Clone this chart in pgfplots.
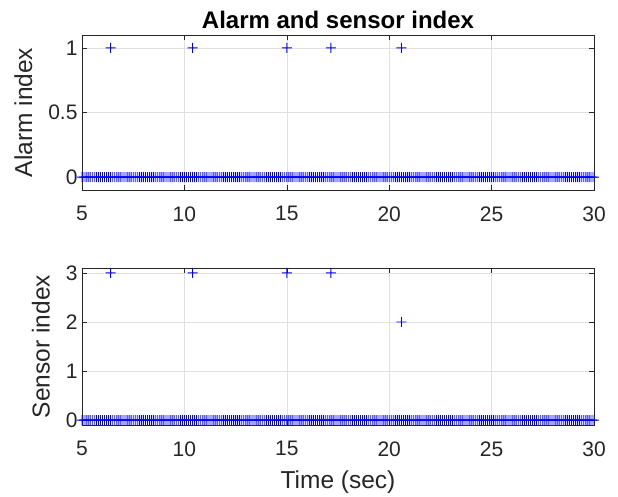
\documentclass[border=0pt]{standalone}
\usepackage{pgfplots}
\pgfplotsset{compat=1.18}
\usepackage{pgfplotstable}
\usepackage{fontspec}
\setmainfont{Liberation Sans}

\definecolor{axgray}{rgb}{0.15,0.15,0.15}
\definecolor{gridgray}{rgb}{0.88,0.88,0.88}
\definecolor{mblue}{rgb}{0,0,1}

% plus mark built from two filled bars
\pgfdeclareplotmark{fplus}{%
  \pgfsetfillcolor{mblue}%
  \pgfpathrectangle{\pgfqpoint{-\pgfplotmarksize}{-0.45pt}}{\pgfqpoint{2\pgfplotmarksize}{0.9pt}}%
  \pgfpathrectangle{\pgfqpoint{-0.45pt}{-\pgfplotmarksize}}{\pgfqpoint{0.9pt}{2\pgfplotmarksize}}%
  \pgfusepathqfill}

% samples where nothing happened (index 0)
\pgfplotstableread[row sep=\\]{
x y\\
5.0 0\\ 5.1 0\\ 5.2 0\\ 5.3 0\\ 5.4 0\\ 5.5 0\\ 5.6 0\\ 5.7 0\\ 5.8 0\\ 5.9 0\\
6.0 0\\ 6.1 0\\ 6.2 0\\ 6.3 0\\ 6.4 0\\ 6.5 0\\ 6.6 0\\ 6.7 0\\ 6.8 0\\ 6.9 0\\
7.0 0\\ 7.1 0\\ 7.2 0\\ 7.3 0\\ 7.4 0\\ 7.5 0\\ 7.6 0\\ 7.7 0\\ 7.8 0\\ 7.9 0\\
8.0 0\\ 8.1 0\\ 8.2 0\\ 8.3 0\\ 8.4 0\\ 8.5 0\\ 8.6 0\\ 8.7 0\\ 8.8 0\\ 8.9 0\\
9.0 0\\ 9.1 0\\ 9.2 0\\ 9.3 0\\ 9.4 0\\ 9.5 0\\ 9.6 0\\ 9.7 0\\ 9.8 0\\ 9.9 0\\
10.0 0\\ 10.1 0\\ 10.2 0\\ 10.3 0\\ 10.4 0\\ 10.5 0\\ 10.6 0\\ 10.7 0\\ 10.8 0\\ 10.9 0\\
11.0 0\\ 11.1 0\\ 11.2 0\\ 11.3 0\\ 11.4 0\\ 11.5 0\\ 11.6 0\\ 11.7 0\\ 11.8 0\\ 11.9 0\\
12.0 0\\ 12.1 0\\ 12.2 0\\ 12.3 0\\ 12.4 0\\ 12.5 0\\ 12.6 0\\ 12.7 0\\ 12.8 0\\ 12.9 0\\
13.0 0\\ 13.1 0\\ 13.2 0\\ 13.3 0\\ 13.4 0\\ 13.5 0\\ 13.6 0\\ 13.7 0\\ 13.8 0\\ 13.9 0\\
14.0 0\\ 14.1 0\\ 14.2 0\\ 14.3 0\\ 14.4 0\\ 14.5 0\\ 14.6 0\\ 14.7 0\\ 14.8 0\\ 14.9 0\\
15.0 0\\ 15.1 0\\ 15.2 0\\ 15.3 0\\ 15.4 0\\ 15.5 0\\ 15.6 0\\ 15.7 0\\ 15.8 0\\ 15.9 0\\
16.0 0\\ 16.1 0\\ 16.2 0\\ 16.3 0\\ 16.4 0\\ 16.5 0\\ 16.6 0\\ 16.7 0\\ 16.8 0\\ 16.9 0\\
17.0 0\\ 17.1 0\\ 17.2 0\\ 17.3 0\\ 17.4 0\\ 17.5 0\\ 17.6 0\\ 17.7 0\\ 17.8 0\\ 17.9 0\\
18.0 0\\ 18.1 0\\ 18.2 0\\ 18.3 0\\ 18.4 0\\ 18.5 0\\ 18.6 0\\ 18.7 0\\ 18.8 0\\ 18.9 0\\
19.0 0\\ 19.1 0\\ 19.2 0\\ 19.3 0\\ 19.4 0\\ 19.5 0\\ 19.6 0\\ 19.7 0\\ 19.8 0\\ 19.9 0\\
20.0 0\\ 20.1 0\\ 20.2 0\\ 20.3 0\\ 20.4 0\\ 20.5 0\\ 20.6 0\\ 20.7 0\\ 20.8 0\\ 20.9 0\\
21.0 0\\ 21.1 0\\ 21.2 0\\ 21.3 0\\ 21.4 0\\ 21.5 0\\ 21.6 0\\ 21.7 0\\ 21.8 0\\ 21.9 0\\
22.0 0\\ 22.1 0\\ 22.2 0\\ 22.3 0\\ 22.4 0\\ 22.5 0\\ 22.6 0\\ 22.7 0\\ 22.8 0\\ 22.9 0\\
23.0 0\\ 23.1 0\\ 23.2 0\\ 23.3 0\\ 23.4 0\\ 23.5 0\\ 23.6 0\\ 23.7 0\\ 23.8 0\\ 23.9 0\\
24.0 0\\ 24.1 0\\ 24.2 0\\ 24.3 0\\ 24.4 0\\ 24.5 0\\ 24.6 0\\ 24.7 0\\ 24.8 0\\ 24.9 0\\
25.0 0\\ 25.1 0\\ 25.2 0\\ 25.3 0\\ 25.4 0\\ 25.5 0\\ 25.6 0\\ 25.7 0\\ 25.8 0\\ 25.9 0\\
26.0 0\\ 26.1 0\\ 26.2 0\\ 26.3 0\\ 26.4 0\\ 26.5 0\\ 26.6 0\\ 26.7 0\\ 26.8 0\\ 26.9 0\\
27.0 0\\ 27.1 0\\ 27.2 0\\ 27.3 0\\ 27.4 0\\ 27.5 0\\ 27.6 0\\ 27.7 0\\ 27.8 0\\ 27.9 0\\
28.0 0\\ 28.1 0\\ 28.2 0\\ 28.3 0\\ 28.4 0\\ 28.5 0\\ 28.6 0\\ 28.7 0\\ 28.8 0\\ 28.9 0\\
29.0 0\\ 29.1 0\\ 29.2 0\\ 29.3 0\\ 29.4 0\\ 29.5 0\\ 29.6 0\\ 29.7 0\\ 29.8 0\\ 29.9 0\\
30.0 0\\
}\zeros

\pgfplotstableread[row sep=\\]{
t alarm sensor\\
6.4 1 3\\
10.4 1 3\\
15.0 1 3\\
17.15 1 3\\
20.6 1 2\\
}\events

\pgfplotsset{
  mlab/.style={
    scale only axis, width=512pt, anchor=south west,
    xmin=5, xmax=30, xtick={5,10,15,20,25,30},
    grid=major, major grid style={gridgray, line width=0.6pt},
    axis line style={axgray, line width=0.6pt},
    tick style={axgray, line width=0.6pt},
    tick align=inside, major tick length=5pt,
    xtick pos=both, ytick pos=both,
    ticklabel style={font=\fontsize{21}{25}\selectfont, text=axgray},
    xticklabel style={yshift=-13pt},
    yticklabel style={xshift=-1pt},
    label style={font=\fontsize{24.5}{29}\selectfont, text=axgray},
    ylabel style={yshift=9pt},
    xlabel style={yshift=-7pt},
    /pgf/number format/assume math mode=true,
    clip=false,
  },
  pts/.style={only marks, mark=fplus, mark size=5pt, color=mblue, fill=mblue},
}

\begin{document}
\begin{tikzpicture}
\useasboundingbox (0pt,0pt) rectangle (618pt,496pt);

\begin{axis}[mlab, at={(82pt,306pt)}, height=155pt,
  ymin=-0.1, ymax=1.1, ytick={0,0.5,1},
  ylabel={Alarm index},
  title={Alarm and sensor index},
  title style={font=\fontsize{24}{28}\selectfont\bfseries, text=black, yshift=-3pt}]
\addplot[pts] table[x=x, y=y] {\zeros};
\addplot[pts] table[x=t, y=alarm] {\events};
\end{axis}

\begin{axis}[mlab, at={(82pt,71pt)}, height=157pt,
  ymin=-0.1, ymax=3.1, ytick={0,1,2,3},
  ylabel={Sensor index},
  xlabel={Time (sec)}]
\addplot[pts] table[x=x, y=y] {\zeros};
\addplot[pts] table[x=t, y=sensor] {\events};
\end{axis}
\end{tikzpicture}
\end{document}
